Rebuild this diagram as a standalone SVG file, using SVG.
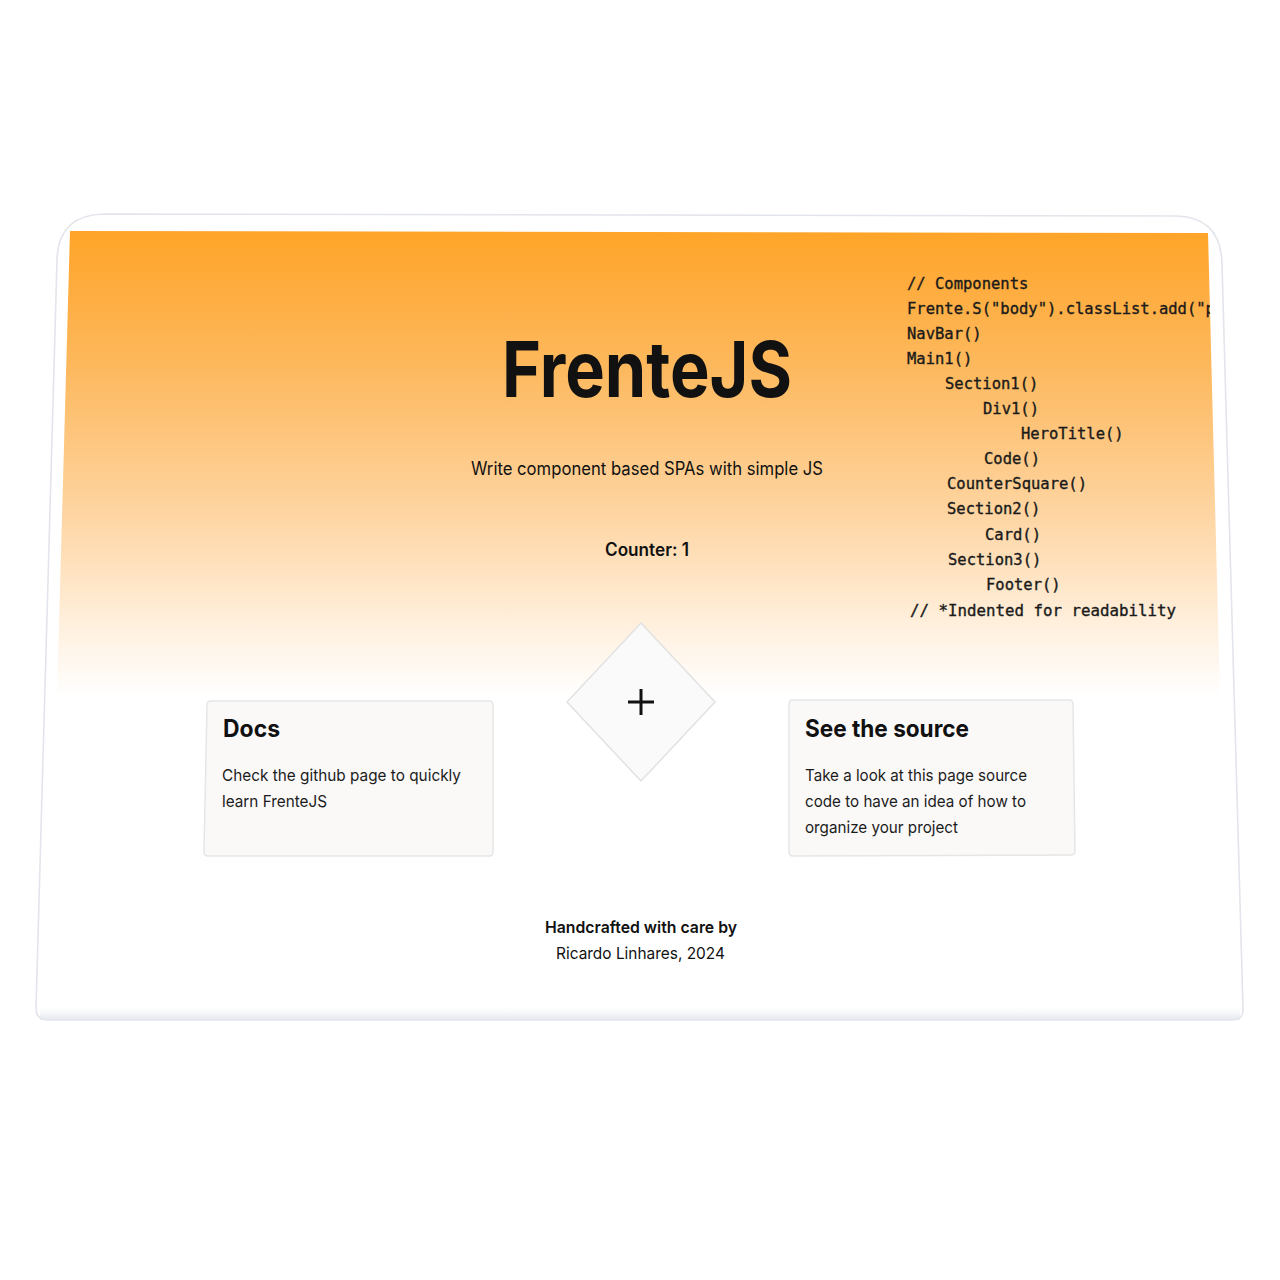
<svg xmlns="http://www.w3.org/2000/svg" width="1280" height="1280" viewBox="0 0 1280 1280">
  <defs>
    <linearGradient id="hero" x1="0" y1="231" x2="0" y2="696" gradientUnits="userSpaceOnUse">
      <stop offset="0" stop-color="#ffa428"/>
      <stop offset="0.3" stop-color="#fdb95f"/>
      <stop offset="0.6" stop-color="#fed4a0"/>
      <stop offset="0.85" stop-color="#fff0de"/>
      <stop offset="1" stop-color="#ffffff"/>
    </linearGradient>
    <linearGradient id="bshadow" x1="0" y1="0" x2="0" y2="1">
      <stop offset="0" stop-color="#ffffff" stop-opacity="0"/>
      <stop offset="1" stop-color="#e4e6ee"/>
    </linearGradient>
    <clipPath id="heroClip">
      <polygon points="70,231 1208,233 1220,696 57,696"/>
    </clipPath>
    <style>
      .sans { font-family: Inter, "Liberation Sans", Arial, sans-serif; fill: #111111; }
      .mono { font-family: "DejaVu Sans Mono", "Liberation Mono", monospace; font-size: 15.5px; fill: #1a1a1a; stroke: #1a1a1a; stroke-width: 0.35; }
      .card { fill: #faf9f8; stroke: #e6e6e6; stroke-width: 1.5; }
      .body { font-size: 16.5px; fill: #1c1c1c; }
      .h { font-size: 24px; font-weight: 700; }
    </style>
  </defs>
  <rect width="1280" height="1280" fill="#ffffff"/>
  <g id="frame">
    <path d="M104,214 L1176,216 Q1221,217 1222,264 L1243,1008 Q1244,1020 1232,1020 L48,1020 Q36,1020 36,1008 L57,260 Q58,215 104,214 Z" fill="#ffffff" stroke="#e3e5ec" stroke-width="1.6"/>
    <rect x="40" y="1004" width="1200" height="16" fill="url(#bshadow)"/>
  </g>
  <g id="hero">
    <polygon points="70,231 1208,233 1220,696 57,696" fill="url(#hero)"/>
  </g>
  <g id="title">
    <text class="sans" x="502" y="397" font-size="77" font-weight="700" textLength="290" lengthAdjust="spacingAndGlyphs">FrenteJS</text>
    <text class="sans" x="471" y="475" font-size="18" textLength="352" lengthAdjust="spacingAndGlyphs">Write component based SPAs with simple JS</text>
    <text class="sans" x="605" y="556" font-size="18" font-weight="600" textLength="84" lengthAdjust="spacingAndGlyphs">Counter: 1</text>
  </g>
  <g id="code" clip-path="url(#heroClip)">
    <text class="mono" x="907" y="289">// Components</text>
    <text class="mono" x="907" y="314">Frente.S("body").classList.add("p</text>
    <text class="mono" x="907" y="339">NavBar()</text>
    <text class="mono" x="907" y="364">Main1()</text>
    <text class="mono" x="945" y="389">Section1()</text>
    <text class="mono" x="983" y="414">Div1()</text>
    <text class="mono" x="1021" y="439">HeroTitle()</text>
    <text class="mono" x="984" y="464">Code()</text>
    <text class="mono" x="947" y="489">CounterSquare()</text>
    <text class="mono" x="947" y="514">Section2()</text>
    <text class="mono" x="985" y="540">Card()</text>
    <text class="mono" x="948" y="565">Section3()</text>
    <text class="mono" x="986" y="590">Footer()</text>
    <text class="mono" x="910" y="616" textLength="266" lengthAdjust="spacingAndGlyphs">// *Indented for readability</text>
  </g>
  <g id="counter-square">
    <polygon points="641,623 715,702 641,781 567,702" fill="#fafafa" stroke="#e2e2e2" stroke-width="1.5"/>
    <path d="M641,689 V715 M628,702 H654" stroke="#111111" stroke-width="3" fill="none"/>
  </g>
  <g id="card-docs">
    <path class="card" d="M211,701 L489,701 Q493,701 493,705 L493,852 Q493,856 489,856 L208,856 Q204,856 204,852 L207,705 Q207,701 211,701 Z"/>
    <text class="sans h" x="223" y="737" textLength="57" lengthAdjust="spacingAndGlyphs">Docs</text>
    <text class="sans body" x="222" y="781" textLength="239" lengthAdjust="spacingAndGlyphs">Check the github page to quickly</text>
    <text class="sans body" x="222" y="807" textLength="105" lengthAdjust="spacingAndGlyphs">learn FrenteJS</text>
  </g>
  <g id="card-source">
    <path class="card" d="M793,700 L1069,700 Q1073,700 1073,704 L1075,851 Q1075,855 1071,855 L793,856 Q789,856 789,852 L789,704 Q789,700 793,700 Z"/>
    <text class="sans h" x="805" y="737" textLength="164" lengthAdjust="spacingAndGlyphs">See the source</text>
    <text class="sans body" x="805" y="781" textLength="222" lengthAdjust="spacingAndGlyphs">Take a look at this page source</text>
    <text class="sans body" x="805" y="807" textLength="221" lengthAdjust="spacingAndGlyphs">code to have an idea of how to</text>
    <text class="sans body" x="805" y="833" textLength="153" lengthAdjust="spacingAndGlyphs">organize your project</text>
  </g>
  <g id="footer">
    <text class="sans" x="545" y="933" font-size="16.5" font-weight="600" textLength="192" lengthAdjust="spacingAndGlyphs">Handcrafted with care by</text>
    <text class="sans" x="556" y="959" font-size="16.5" fill="#222222" textLength="169" lengthAdjust="spacingAndGlyphs">Ricardo Linhares, 2024</text>
  </g>
</svg>
